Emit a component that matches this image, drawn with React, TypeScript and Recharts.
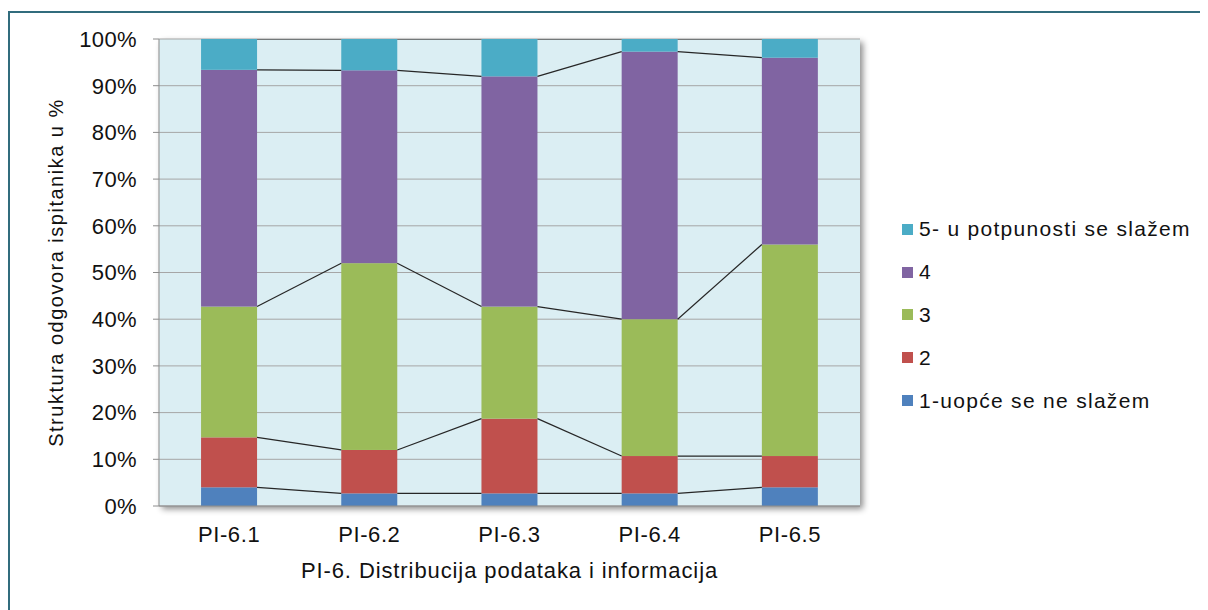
import React from "react";
import { BarChart, Bar, XAxis, YAxis, CartesianGrid, Legend } from "recharts";

const categories = ["PI-6.1", "PI-6.2", "PI-6.3", "PI-6.4", "PI-6.5"];
const seriesNames = ["1-uopće se ne slažem", "2", "3", "4", "5- u potpunosti se slažem"];
const seriesColors = ["#4F81BD", "#C0504D", "#9BBB59", "#8064A2", "#4BACC6"];

// share of respondents (%) per answer
const answer1 = [4.0, 2.7, 2.7, 2.7, 4.0];
const answer2 = [10.7, 9.3, 16.0, 8.0, 6.7];
const answer3 = [28.0, 40.0, 24.0, 29.3, 45.3];
const answer4 = [50.7, 41.3, 49.3, 57.3, 40.0];
const answer5 = [6.6, 6.7, 8.0, 2.7, 4.0];
const answers = [answer1, answer2, answer3, answer4, answer5];

const yTicks = [0, 10, 20, 30, 40, 50, 60, 70, 80, 90, 100];
const yTitle = "Struktura odgovora ispitanika u %";
const xTitle = "PI-6. Distribucija podataka i informacija";

const data = categories.map((name, i) => {
  const row: Record<string, any> = { name };
  answers.forEach((a, s) => (row[`s${s + 1}`] = a[i]));
  return row;
});

const FONT = "Arial, 'Liberation Sans', sans-serif";
const TEXT = "#111";
const AXIS = "#8c8c8c";

// tops of every stacked segment, filled while bars render, used for the series lines
const tops: { x: number; y: number; w: number }[][] = seriesNames.map(() => []);

function makeShape(s: number) {
  return (props: any) => {
    const { x, y, width, height, fill } = props;
    const i = typeof props.index === "number" ? props.index : categories.indexOf(props.payload?.name);
    tops[s][i] = { x, y, w: width };
    const last = s === seriesNames.length - 1 && i === categories.length - 1;
    return (
      <g>
        <rect x={x} y={y} width={width} height={height} fill={fill} />
        {last &&
          tops.map((row, k) =>
            row.slice(0, -1).map((p, j) => {
              const q = row[j + 1];
              if (!p || !q) return null;
              return (
                <line key={`sl-${k}-${j}`} x1={p.x + p.w} y1={p.y} x2={q.x} y2={q.y} stroke="#262626" strokeWidth={1.2} />
              );
            })
          )}
      </g>
    );
  };
}

const renderLegend = (props: any) => {
  const items = [...(props.payload || [])].reverse();
  return (
    <div style={{ fontFamily: FONT, fontSize: 21, letterSpacing: 1.3, color: TEXT }}>
      {items.map((it: any) => (
        <div key={it.value} style={{ display: "flex", alignItems: "center", height: 42.8, whiteSpace: "nowrap" }}>
          <span style={{ display: "inline-block", width: 11, height: 11, background: it.color, marginRight: 6 }} />
          {it.value}
        </div>
      ))}
    </div>
  );
};

export default function App() {
  return (
    <div style={{ position: "relative", width: 1200, height: 602, fontFamily: FONT }}>
      <style>{`body{overflow:hidden}.recharts-cartesian-grid-bg{filter:drop-shadow(3px 3px 3px rgba(0,0,0,0.45));}`}</style>
      <div
        style={{
          position: "absolute",
          left: 0,
          top: 3,
          width: 1200,
          height: 599,
          borderTop: "2px solid #316C7D",
          borderLeft: "2px solid #316C7D",
          boxSizing: "border-box",
        }}
      />
      <div style={{ position: "absolute", left: 0, top: 0 }}>
        <BarChart width={1200} height={602} data={data} margin={{ top: 31, right: 348, bottom: 24, left: 31 }} barCategoryGap="30%">
          <CartesianGrid vertical={false} stroke="#a6a6a6" fill="#DBEEF3" fillOpacity={1} />
          <XAxis
            dataKey="name"
            height={80}
            tickLine={false}
            tickMargin={14}
            axisLine={{ stroke: AXIS }}
            tick={{ fontSize: 22, fill: TEXT, style: { letterSpacing: "0.6px" } }}
            label={{
              value: xTitle,
              position: "insideBottom",
              offset: 8,
              fontSize: 22,
              fill: TEXT,
              style: { letterSpacing: "0.9px" },
            }}
          />
          <YAxis
            width={120}
            domain={[0, 100]}
            allowDataOverflow
            ticks={yTicks}
            tickFormatter={(v: number) => `${v}%`}
            tickSize={6}
            tickMargin={16}
            axisLine={{ stroke: AXIS }}
            tickLine={{ stroke: AXIS }}
            tick={{ fontSize: 22, fill: TEXT, style: { letterSpacing: "0.4px" } }}
            label={{
              value: yTitle,
              angle: -90,
              position: "insideLeft",
              offset: 17,
              fontSize: 20,
              fill: TEXT,
              style: { textAnchor: "middle", letterSpacing: "1.5px" },
            }}
          />
          <Legend
            layout="vertical"
            align="center"
            verticalAlign="middle"
            content={renderLegend}
            wrapperStyle={{ left: 894, top: 200, width: 306 }}
          />
          {seriesNames.map((n, s) => (
            <Bar
              key={n}
              dataKey={`s${s + 1}`}
              name={n}
              stackId="a"
              fill={seriesColors[s]}
              shape={makeShape(s)}
              isAnimationActive={false}
            />
          ))}
        </BarChart>
      </div>
    </div>
  );
}
